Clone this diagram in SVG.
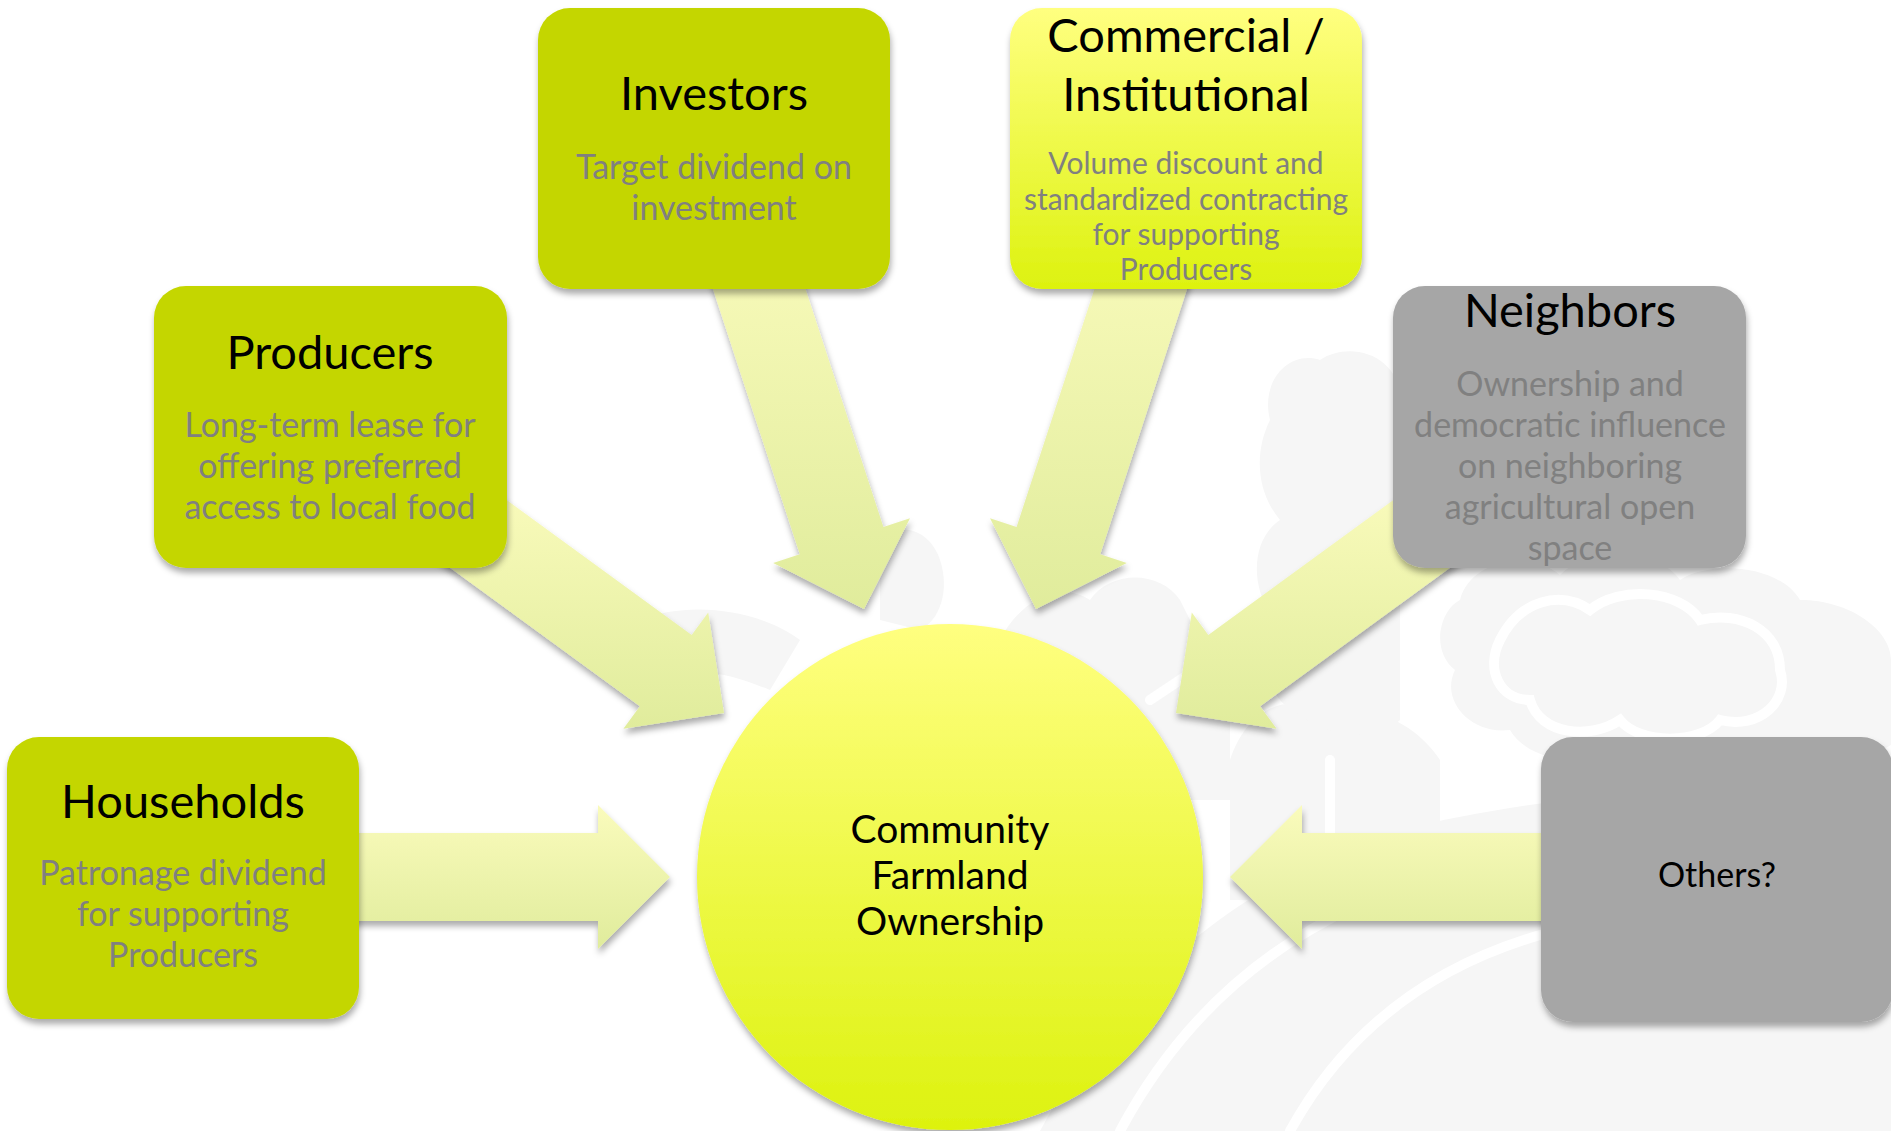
<svg xmlns="http://www.w3.org/2000/svg" width="1891" height="1131" viewBox="0 0 1891 1131">
  <defs>
    <style>
      .title { font-family: Lato, "Open Sans", "Liberation Sans", sans-serif; font-size: 47px; fill: #000; text-anchor: middle; }
      .sub { font-family: Lato, "Open Sans", "Liberation Sans", sans-serif; font-size: 34px; fill: #808080; text-anchor: middle; }
      .subs { font-family: Lato, "Open Sans", "Liberation Sans", sans-serif; font-size: 30px; fill: #808080; text-anchor: middle; }
      .center { font-family: Lato, "Open Sans", "Liberation Sans", sans-serif; font-size: 39px; fill: #000; text-anchor: middle; }
      .other { font-family: Lato, "Open Sans", "Liberation Sans", sans-serif; font-size: 34px; fill: #000; text-anchor: middle; }
      .green { fill: #C4D600; }
      .gray { fill: #A6A6A6; }
      .arrow { fill: url(#arrowGrad); }
      .wm { fill: #F6F6F6; }
      .wml { fill: none; stroke: #FFFFFF; stroke-width: 10; stroke-linecap: round; }
    </style>
    <linearGradient id="arrowGrad" x1="0" y1="0" x2="0" y2="1">
      <stop offset="0" stop-color="#FAFBBC"/>
      <stop offset="1" stop-color="#E0EC9C"/>
    </linearGradient>
    <linearGradient id="yelGrad" x1="0" y1="0" x2="0" y2="1">
      <stop offset="0" stop-color="#FFFF80"/>
      <stop offset="1" stop-color="#DDF20F"/>
    </linearGradient>
    <filter id="sh" x="-15%" y="-15%" width="135%" height="135%">
      <feDropShadow dx="1" dy="5" stdDeviation="3" flood-color="#000" flood-opacity="0.33"/>
    </filter>
  </defs>

  <rect x="0" y="0" width="1891" height="1131" fill="#FFFFFF"/>

  <!-- faint watermark -->
  <g id="watermark">
    <path class="wm" d="M1040,1131 C1120,980 1240,880 1400,830 C1560,790 1760,780 1891,790 L1891,1131 Z"/>
    <path class="wm" d="M1230,760 C1250,700 1300,690 1330,720 C1380,700 1420,730 1440,760 L1440,900 L1230,900 Z"/>
    <path class="wm" d="M1460,600 C1470,560 1530,550 1560,575 C1590,545 1660,550 1680,580 C1710,560 1780,565 1800,600 C1850,600 1891,630 1891,660 L1891,745 C1850,770 1790,770 1760,750 C1730,775 1660,775 1640,745 C1600,770 1530,765 1510,730 C1470,735 1440,700 1455,670 C1430,650 1440,610 1460,600 Z"/>
    <path class="wm" d="M1270,420 C1260,380 1290,350 1320,360 C1350,340 1400,355 1400,400 L1400,720 C1380,740 1330,740 1300,715 C1265,700 1255,650 1275,620 C1250,590 1250,540 1280,520 C1255,490 1255,450 1270,420 Z"/>
    <path class="wm" d="M1000,640 C1020,600 1060,580 1090,600 C1110,570 1160,570 1180,600 L1230,700 L1230,800 L1020,800 C990,760 985,700 1000,640 Z"/>
    <path class="wm" d="M880,540 C900,520 930,530 940,560 C950,590 940,620 920,630 L880,620 Z"/>
    <path class="wm" d="M640,620 C690,600 760,610 800,640 L770,690 C720,670 680,660 650,700 C630,680 625,640 640,620 Z"/>
    <path class="wml" d="M1120,1131 C1190,1000 1300,910 1460,870 C1600,840 1760,835 1891,845"/>
    <path class="wml" d="M1290,1131 C1340,1040 1420,970 1540,935"/>
    <path class="wml" d="M1500,640 C1520,600 1560,590 1590,610 C1620,585 1680,590 1700,620 C1740,610 1780,630 1780,670 C1790,700 1760,730 1720,720 C1700,745 1640,745 1620,720 C1590,740 1540,735 1530,700 C1500,700 1485,670 1500,640 Z"/>
    <path class="wml" d="M1150,700 L1240,640"/>
    <path class="wml" d="M1330,760 L1330,880"/>
  </g>

  <!-- connectors -->
  <g id="connectors" filter="url(#sh)">
    <polygon class="arrow" points="670,877 598,805 598,833 300,833 300,921 598,921 598,949"/>
    <polygon class="arrow" points="1230,877 1302,805 1302,833 1600,833 1600,921 1302,921 1302,949"/>
    <polygon class="arrow" points="724,713 708.2,612.4 691.7,635 483.3,483 431.5,554.2 639.9,706.2 623.4,728.8"/>
    <polygon class="arrow" points="1176,713 1191.8,612.4 1208.3,635 1416.7,483 1468.5,554.2 1260.1,706.2 1276.6,728.8"/>
    <polygon class="arrow" points="864,609 773.2,563 799.8,554.3 697.8,242.7 781.4,215.3 883.4,526.9 910,518.2"/>
    <polygon class="arrow" points="1036,609 1126.8,563 1100.2,554.3 1202.2,242.7 1118.6,215.3 1016.6,526.9 990,518.2"/>
  </g>

  <g id="investors">
    <rect class="green" x="538" y="8" width="352" height="281" rx="32" filter="url(#sh)"/>
    <text class="title" x="714" y="110">Investors</text>
    <text class="sub" x="714" y="179">Target dividend on</text>
    <text class="sub" x="714" y="220">investment</text>
  </g>

  <g id="commercial">
    <rect x="1010" y="8" width="352" height="281" rx="32" fill="url(#yelGrad)" filter="url(#sh)"/>
    <text class="title" x="1186" y="52">Commercial /</text>
    <text class="title" x="1186" y="111">Institutional</text>
    <text class="subs" x="1186" y="174">Volume discount and</text>
    <text class="subs" x="1186" y="210">standardized contracting</text>
    <text class="subs" x="1186" y="245">for supporting</text>
    <text class="subs" x="1186" y="280">Producers</text>
  </g>

  <g id="producers">
    <rect class="green" x="154" y="286" width="353" height="282" rx="32" filter="url(#sh)"/>
    <text class="title" x="330" y="369">Producers</text>
    <text class="sub" x="330" y="437">Long-term lease for</text>
    <text class="sub" x="330" y="478">offering preferred</text>
    <text class="sub" x="330" y="519">access to local food</text>
  </g>

  <g id="neighbors">
    <rect class="gray" x="1393" y="286" width="353" height="282" rx="32" filter="url(#sh)"/>
    <text class="title" x="1570" y="327">Neighbors</text>
    <text class="sub" x="1570" y="396">Ownership and</text>
    <text class="sub" x="1570" y="437">democratic influence</text>
    <text class="sub" x="1570" y="478">on neighboring</text>
    <text class="sub" x="1570" y="519">agricultural open</text>
    <text class="sub" x="1570" y="560">space</text>
  </g>

  <g id="households">
    <rect class="green" x="7" y="737" width="352" height="282" rx="32" filter="url(#sh)"/>
    <text class="title" x="183" y="818">Households</text>
    <text class="sub" x="183" y="885">Patronage dividend</text>
    <text class="sub" x="183" y="926">for supporting</text>
    <text class="sub" x="183" y="967">Producers</text>
  </g>

  <g id="others">
    <rect class="gray" x="1541" y="737" width="352" height="285" rx="32" filter="url(#sh)"/>
    <text class="other" x="1717" y="887">Others?</text>
  </g>

  <g id="center">
    <circle cx="950" cy="877" r="253" fill="url(#yelGrad)" filter="url(#sh)"/>
    <text class="center" x="950" y="843">Community</text>
    <text class="center" x="950" y="889">Farmland</text>
    <text class="center" x="950" y="935">Ownership</text>
  </g>
</svg>
